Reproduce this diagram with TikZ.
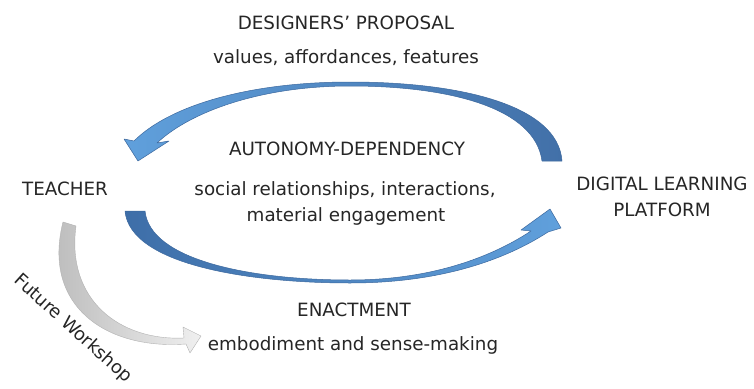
\documentclass[tikz,border=0pt]{standalone}
\usepackage{fontspec}
\setmainfont{DejaVu Sans}
\begin{document}
\begin{tikzpicture}[x=1pt,y=-1pt,
  lbl/.style={font=\fontsize{18.3}{22}\selectfont, text=black!85, anchor=base, inner sep=0pt},
  bluearrow/.style={draw={rgb,255:red,60;green,104;blue,158}, line width=0.5pt, line join=round},
  grayarrow/.style={draw=gray!60, line width=0.4pt, line join=round}]
\useasboundingbox[fill=white] (0,0) rectangle (754,388);

% top arrow (designers' proposal), pointing to teacher
\path[bluearrow, left color={rgb,255:red,96;green,160;blue,220}, right color={rgb,255:red,66;green,112;blue,168}]
  (562,161) .. controls (558,105) and (460,82) .. (350,82)
  .. controls (250,82) and (170,105) .. (134,141)
  -- (124,139) -- (138,161) -- (169,141) -- (157,143)
  .. controls (190,112) and (260,86) .. (350,86)
  .. controls (450,86) and (535,108) .. (542,161) -- cycle;

% bottom arrow (enactment), pointing to platform
\path[bluearrow, left color={rgb,255:red,62;green,110;blue,168}, right color={rgb,255:red,96;green,160;blue,220}]
  (125,211) .. controls (130,265) and (250,283) .. (350,283)
  .. controls (440,283) and (505,260) .. (548,232)
  -- (561,228) -- (550,209) -- (521,230) -- (531,231)
  .. controls (490,258) and (430,280) .. (350,280)
  .. controls (250,280) and (150,260) .. (145,211) -- cycle;

% gray arrow (future workshop)
\path[grayarrow, left color=gray!55!white, right color=gray!12!white]
  (63,222) .. controls (42,305) and (105,350) .. (186,344)
  -- (190,353) -- (201,336) -- (183,327) -- (184,338)
  .. controls (120,341) and (66,300) .. (76,226) -- cycle;

% labels
\node[lbl] (dp) at (346,29) {DESIGNERS’ PROPOSAL};
\node[lbl] (vaf) at (346,63) {values, affordances, features};
\node[lbl] (ad) at (347,155) {AUTONOMY-DEPENDENCY};
\node[lbl] (sri) at (345,195) {social relationships, interactions,};
\node[lbl] (me) at (346,221) {material engagement};
\node[lbl] (teacher) at (65,195) {TEACHER};
\node[lbl] (dlp1) at (662,190) {DIGITAL LEARNING};
\node[lbl] (dlp2) at (662,216) {PLATFORM};
\node[lbl] (en) at (354,316) {ENACTMENT};
\node[lbl] (es) at (353,350) {embodiment and sense-making};
\node[lbl, anchor=center, rotate=-42, font=\fontsize{18}{20}\selectfont] (fw) at (73,329) {Future Workshop};
\end{tikzpicture}
\end{document}
